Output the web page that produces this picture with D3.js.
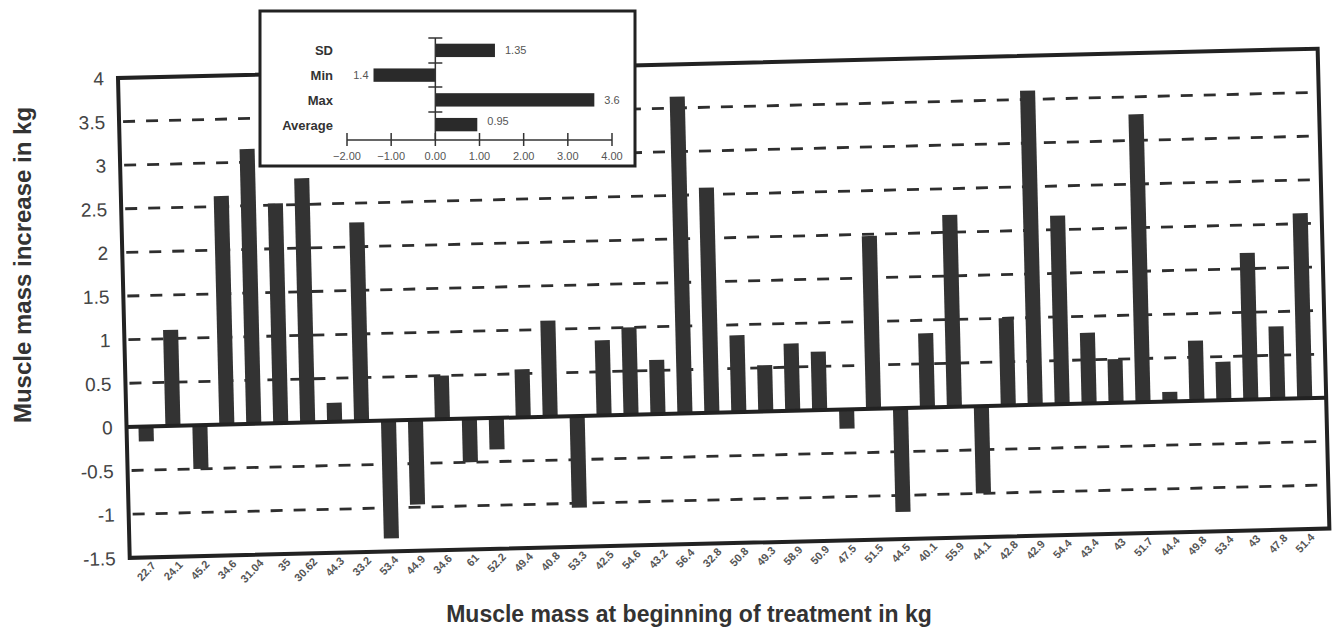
<!DOCTYPE html>
<html>
<head>
<meta charset="utf-8">
<script src="https://cdn.jsdelivr.net/npm/d3@7"></script>
<style>
  body { margin: 0; background: #fff; }
  svg { display: block; }
</style>
</head>
<body>
<div class="canvas"></div>
<script>
// muscle mass at start of treatment (x labels) and increase (bar values)
const startMass = ["22.7","24.1","45.2","34.6","31.04","35","30.62","44.3","33.2","53.4","44.9","34.6","61","52.2","49.4","40.8","53.3","42.5","54.6","43.2","56.4","32.8","50.8","49.3","58.9","50.9","47.5","51.5","44.5","40.1","55.9","44.1","42.8","42.9","54.4","43.4","43","51.7","44.4","49.8","53.4","43","47.8","51.4"];
const increase = [-0.17, 1.1, -0.5, 2.62, 3.15, 2.52, 2.8, 0.22, 2.28, -1.35, -0.97, 0.5, -0.5, -0.36, 0.55, 1.1, -1.05, 0.86, 1.0, 0.62, 3.63, 2.58, 0.88, 0.53, 0.77, 0.67, -0.22, 1.98, -1.19, 0.85, 2.2, -1.0, 1.0, 3.6, 2.16, 0.81, 0.5, 3.3, 0.11, 0.69, 0.44, 1.68, 0.83, 2.12];
const yTicks = [-1.5, -1, -0.5, 0, 0.5, 1, 1.5, 2, 2.5, 3, 3.5, 4];

// summary inset
const statNames = ["SD", "Min", "Max", "Average"];
const statValues = [1.35, -1.4, 3.6, 0.95];
const statLabels = ["1.35", "1.4", "3.6", "0.95"];
const insetTicks = [-2, -1, 0, 1, 2, 3, 4];

const W = 1339, H = 637;
const plotW = 1200, plotH = 480;
const ink = '#2e2e2e';

const svg = d3.select('.canvas').append('svg')
    .attr('width', W)
    .attr('height', H);

svg.append('rect').attr('width', W).attr('height', H).attr('fill', '#fff');

// the scanned chart sits a little tilted
const plot = svg.append('g')
    .attr('transform', 'translate(118, 78) rotate(-1.4)');

const x = d3.scaleBand()
    .domain(d3.range(startMass.length))
    .range([6, 1192])
    .paddingInner(0.44)
    .paddingOuter(0.22);

const y = d3.scaleLinear()
    .domain([-1.5, 4])
    .range([plotH, 0]);

// dashed grid
plot.selectAll('.grid')
    .data(yTicks.filter(t => t !== 0 && t !== 4 && t !== -1.5))
    .enter().append('line')
    .attr('x1', 4)
    .attr('x2', plotW)
    .attr('y1', d => y(d))
    .attr('y2', d => y(d))
    .attr('stroke', ink)
    .attr('stroke-width', 2.8)
    .attr('stroke-dasharray', '12,11');

// bars
plot.selectAll('.bar')
    .data(increase)
    .enter().append('rect')
    .attr('x', (d, i) => x(i))
    .attr('width', x.bandwidth())
    .attr('y', d => y(Math.max(0, d)))
    .attr('height', d => Math.abs(y(d) - y(0)))
    .attr('fill', '#333');

// zero line
plot.append('line')
    .attr('x1', 0).attr('x2', plotW)
    .attr('y1', y(0)).attr('y2', y(0))
    .attr('stroke', '#222')
    .attr('stroke-width', 4);

// frame
plot.append('rect')
    .attr('x', 0).attr('y', 0)
    .attr('width', plotW).attr('height', plotH)
    .attr('fill', 'none')
    .attr('stroke', '#222')
    .attr('stroke-width', 4);

// y tick labels
plot.selectAll('.ylab')
    .data(yTicks)
    .enter().append('text')
    .attr('x', -14)
    .attr('y', d => y(d) + 7)
    .attr('text-anchor', 'end')
    .attr('fill', '#444')
    .style('font-family', 'Liberation Sans, Arial, sans-serif')
    .style('font-size', '19px')
    .text(d => String(d));

// x tick labels
plot.selectAll('.xlab')
    .data(startMass)
    .enter().append('text')
    .attr('transform', (d, i) => `translate(${x(i) + x.bandwidth() / 2 + 7}, ${plotH + 9}) rotate(-45)`)
    .attr('text-anchor', 'end')
    .attr('fill', '#555')
    .style('font-family', 'Liberation Sans, Arial, sans-serif')
    .style('font-size', '11px')
    .attr('font-weight', 'bold')
    .text(d => d);

// axis titles
svg.append('text')
    .attr('transform', 'translate(31, 265) rotate(-90)')
    .attr('text-anchor', 'middle')
    .attr('fill', '#333')
    .style('font-family', 'Liberation Sans, Arial, sans-serif')
    .style('font-size', '24px')
    .attr('font-weight', 'bold')
    .text('Muscle mass increase in kg');

svg.append('text')
    .attr('x', 689)
    .attr('y', 622)
    .attr('text-anchor', 'middle')
    .attr('fill', '#333')
    .style('font-family', 'Liberation Sans, Arial, sans-serif')
    .style('font-size', '23px')
    .attr('font-weight', 'bold')
    .text('Muscle mass at beginning of treatment in kg');

// inset box
const inset = svg.append('g');
inset.append('rect')
    .attr('x', 260).attr('y', 11)
    .attr('width', 375).attr('height', 155)
    .attr('fill', '#fff')
    .attr('stroke', '#222')
    .attr('stroke-width', 3);

const ix = d3.scaleLinear().domain([-2, 4]).range([347, 612]);
const iy = d3.scaleBand().domain(statNames).range([38, 137]).paddingInner(0.46).paddingOuter(0.23);

inset.selectAll('.ibar')
    .data(statValues)
    .enter().append('rect')
    .attr('x', d => ix(Math.min(0, d)))
    .attr('width', d => Math.abs(ix(d) - ix(0)))
    .attr('y', (d, i) => iy(statNames[i]))
    .attr('height', iy.bandwidth())
    .attr('fill', '#2a2a2a');

// category axis with small ticks
inset.append('line')
    .attr('x1', ix(0)).attr('x2', ix(0))
    .attr('y1', 38).attr('y2', 140)
    .attr('stroke', '#333').attr('stroke-width', 1.5);
inset.selectAll('.itick')
    .data([38, 63, 87, 112])
    .enter().append('line')
    .attr('x1', ix(0) - 7).attr('x2', ix(0) + 7)
    .attr('y1', d => d).attr('y2', d => d)
    .attr('stroke', '#333').attr('stroke-width', 1.5);

inset.selectAll('.iname')
    .data(statNames)
    .enter().append('text')
    .attr('x', 333)
    .attr('y', d => iy(d) + iy.bandwidth() / 2 + 5)
    .attr('text-anchor', 'end')
    .attr('fill', '#333')
    .style('font-family', 'Liberation Sans, Arial, sans-serif')
    .style('font-size', '13px')
    .attr('font-weight', 'bold')
    .text(d => d);

inset.selectAll('.ival')
    .data(statValues)
    .enter().append('text')
    .attr('x', d => d < 0 ? ix(d) - 5 : ix(d) + 10)
    .attr('y', (d, i) => iy(statNames[i]) + iy.bandwidth() / 2 + 4 - (i === 3 ? 4 : 0))
    .attr('text-anchor', d => d < 0 ? 'end' : 'start')
    .attr('fill', '#555')
    .style('font-family', 'Liberation Sans, Arial, sans-serif')
    .style('font-size', '11px')
    .text((d, i) => statLabels[i]);

// value axis of the inset
const iaxis = inset.append('g').attr('transform', 'translate(0, 140)');
iaxis.append('line')
    .attr('x1', ix(-2)).attr('x2', ix(4))
    .attr('stroke', '#333').attr('stroke-width', 1.5);
iaxis.selectAll('.vt')
    .data(insetTicks)
    .enter().append('line')
    .attr('x1', d => ix(d)).attr('x2', d => ix(d))
    .attr('y1', -7).attr('y2', 6)
    .attr('stroke', '#333').attr('stroke-width', 1.5);
iaxis.selectAll('.vl')
    .data(insetTicks)
    .enter().append('text')
    .attr('x', d => ix(d))
    .attr('y', 20)
    .attr('text-anchor', 'middle')
    .attr('fill', '#555')
    .style('font-family', 'Liberation Sans, Arial, sans-serif')
    .style('font-size', '11px')
    .text(d => d3.format('.2f')(d));
</script>
</body>
</html>
